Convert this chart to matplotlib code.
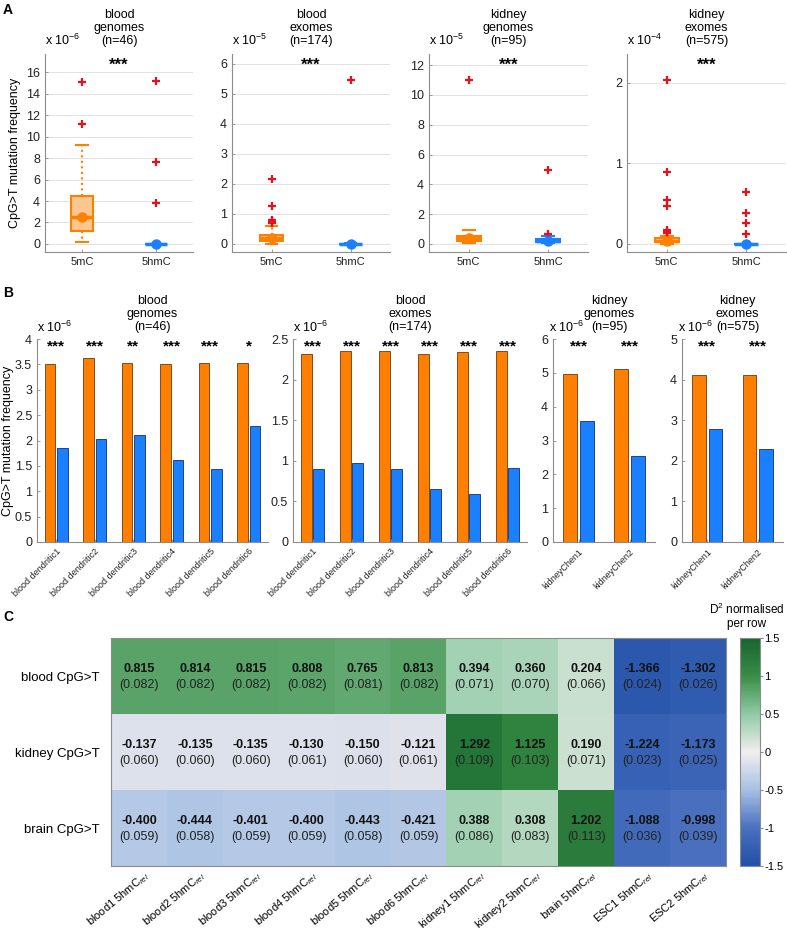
import matplotlib
matplotlib.use("Agg")
import matplotlib.pyplot as plt
import numpy as np
from matplotlib.colors import LinearSegmentedColormap

plt.rcParams["font.family"] = ["Liberation Sans", "DejaVu Sans"]
plt.rcParams["mathtext.fontset"] = "custom"
plt.rcParams["mathtext.rm"] = "Liberation Sans"
plt.rcParams["mathtext.it"] = "Liberation Sans:italic"
plt.rcParams["mathtext.bf"] = "Liberation Sans:bold"

ORANGE = "#ff8000"
BLUE = "#1a80ff"
GREY = "#8c8c8c"

# ---- panel A: boxplots (values in units of the axis multiplier)
a_titles = ["blood\ngenomes\n(n=46)", "blood\nexomes\n(n=174)",
            "kidney\ngenomes\n(n=95)", "kidney\nexomes\n(n=575)"]
a_exponents = [-6, -5, -5, -4]
# whislo, q1, median, q3, whishi
box_5mC = [[0.15, 1.25, 2.5, 4.45, 9.25],
           [0.0, 0.1, 0.18, 0.3, 0.6],
           [0.05, 0.18, 0.38, 0.55, 0.95],
           [0.0, 0.02, 0.04, 0.07, 0.1]]
fliers_5mC = [[11.2, 15.1],
              [0.68, 0.75, 0.8, 1.27, 2.15],
              [11.0],
              [0.13, 0.14, 0.15, 0.17, 0.47, 0.55, 0.9, 2.04]]
box_5hmC = [[0.0, 0.0, 0.0, 0.0, 0.0],
            [0.0, 0.0, 0.0, 0.01, 0.02],
            [0.05, 0.1, 0.2, 0.3, 0.55],
            [0.0, 0.0, 0.0, 0.0, 0.0]]
fliers_5hmC = [[3.8, 7.6, 15.2],
               [5.45],
               [0.65, 4.95],
               [0.12, 0.26, 0.39, 0.65]]
a_ylims = [(-0.75, 17.7), (-0.27, 6.33), (-0.54, 12.75), (-0.1, 2.36)]
a_yticks = [np.arange(0, 17, 2), np.arange(0, 7, 1), np.arange(0, 13, 2), [0, 1, 2]]
a_rects = [(45, 193), (232, 390), (429, 588), (627, 786)]

# ---- panel B: bars (x 1e-6)
b_titles = ["blood\ngenomes\n(n=46)", "blood\nexomes\n(n=174)",
            "kidney\ngenomes\n(n=95)", "kidney\nexomes\n(n=575)"]
dendritic = ["blood dendritic1", "blood dendritic2", "blood dendritic3",
             "blood dendritic4", "blood dendritic5", "blood dendritic6"]
b_labels = [dendritic, dendritic, ["kidneyChen1", "kidneyChen2"], ["kidneyChen1", "kidneyChen2"]]
b_5mC = [[3.50, 3.62, 3.53, 3.50, 3.53, 3.52],
         [2.32, 2.35, 2.35, 2.32, 2.34, 2.35],
         [4.98, 5.10],
         [4.12, 4.12]]
b_5hmC = [[1.85, 2.03, 2.10, 1.62, 1.43, 2.29],
          [0.90, 0.97, 0.90, 0.65, 0.59, 0.91],
          [3.58, 2.53],
          [2.78, 2.30]]
b_stars = [["***", "***", "**", "***", "***", "*"],
           ["***"] * 6,
           ["***", "***"],
           ["***", "***"]]
b_ylims = [4, 2.5, 6, 5]
b_yticks = [np.arange(0, 4.01, 0.5), np.arange(0, 2.51, 0.5), np.arange(0, 7, 1), np.arange(0, 6, 1)]
b_rects = [(37, 268), (293, 527), (553, 655), (682, 783)]

# ---- panel C: heatmap
c_rows = ["blood CpG>T", "kidney CpG>T", "brain CpG>T"]
c_cols = ["blood1", "blood2", "blood3", "blood4", "blood5", "blood6",
          "kidney1", "kidney2", "brain", "ESC1", "ESC2"]
d2 = np.array([
    [0.815, 0.814, 0.815, 0.808, 0.765, 0.813, 0.394, 0.360, 0.204, -1.366, -1.302],
    [-0.137, -0.135, -0.135, -0.130, -0.150, -0.121, 1.292, 1.125, 0.190, -1.224, -1.173],
    [-0.400, -0.444, -0.401, -0.400, -0.443, -0.421, 0.388, 0.308, 1.202, -1.088, -0.998]])
d2_se = np.array([
    [0.082, 0.082, 0.082, 0.082, 0.081, 0.082, 0.071, 0.070, 0.066, 0.024, 0.026],
    [0.060, 0.060, 0.060, 0.061, 0.060, 0.061, 0.109, 0.103, 0.071, 0.023, 0.025],
    [0.059, 0.058, 0.059, 0.059, 0.058, 0.059, 0.086, 0.083, 0.113, 0.036, 0.039]])

W, H = 787, 933
fig = plt.figure(figsize=(W / 100, H / 100), dpi=100)


def rect(x0, x1, ytop, ybot):
    return [x0 / W, 1 - ybot / H, (x1 - x0) / W, (ybot - ytop) / H]


def style(ax):
    for s in ["top", "right"]:
        ax.spines[s].set_visible(False)
    for s in ["left", "bottom"]:
        ax.spines[s].set_color(GREY)
    ax.tick_params(colors="#222222", labelsize=9, length=2, direction="in", width=0.6)
    ax.tick_params(axis="both", color=GREY)


# panel A
for i in range(4):
    ax = fig.add_axes(rect(*a_rects[i], 54, 252))
    style(ax)
    ax.set_axisbelow(True)
    ax.yaxis.grid(True, color="#e2e2e2", lw=0.7)
    groups = [(box_5mC[i], fliers_5mC[i], ORANGE, "#fcc690"),
              (box_5hmC[i], fliers_5hmC[i], BLUE, "#8fc2ff")]
    for j, (b, fl, col, light) in enumerate(groups):
        st = dict(whislo=b[0], q1=b[1], med=b[2], q3=b[3], whishi=b[4], fliers=fl)
        ax.bxp([st], positions=[j + 1], widths=0.3, capwidths=0.15, patch_artist=True,
               boxprops=dict(facecolor=light, edgecolor=col, lw=1.5),
               whiskerprops=dict(color=col, ls=":", lw=1.5),
               capprops=dict(color=col, lw=1.5),
               medianprops=dict(color=col, lw=2.5),
               flierprops=dict(marker="+", markeredgecolor="#e8101a", markersize=5.5, mew=1.6),
               manage_ticks=False)
        ax.plot(j + 1, b[2], "o", color=col, ms=6.5, zorder=5)
    ax.set_xlim(0.5, 2.5)
    ax.set_ylim(*a_ylims[i])
    ax.set_yticks(a_yticks[i])
    ax.set_xticks([1, 2])
    ax.set_xticklabels(["5mC", "5hmC"], fontsize=8)
    ax.text(1.5, 0.945, "***", transform=ax.get_xaxis_transform(), ha="center", va="center",
            fontsize=12, fontweight="bold")
    ax.text(0.0, 1.03, "x 10$^{%d}$" % a_exponents[i], transform=ax.transAxes,
            ha="left", va="bottom", fontsize=9)
    ax.text(0.5, 1.035, a_titles[i], transform=ax.transAxes, ha="center", va="bottom",
            fontsize=9, linespacing=1.1)
    if i == 0:
        ax.set_ylabel("CpG>T mutation frequency", fontsize=9)
        ax.yaxis.set_label_coords(-0.165, 0.5)

# panel B
for i in range(4):
    ax = fig.add_axes(rect(*b_rects[i], 339, 542))
    style(ax)
    n = len(b_5mC[i])
    x = np.arange(1, n + 1)
    ax.bar(x - 0.16, b_5mC[i], width=0.27, color=ORANGE, edgecolor="#6b3a10", lw=0.6)
    ax.bar(x + 0.16, b_5hmC[i], width=0.27, color=BLUE, edgecolor="#10306b", lw=0.6)
    for k in range(n):
        ax.text(x[k], 0.965, b_stars[i][k], transform=ax.get_xaxis_transform(),
                ha="center", va="center", fontsize=11, fontweight="bold")
    ax.set_xlim(0.5, n + 0.5)
    ax.set_ylim(0, b_ylims[i])
    ax.set_yticks(b_yticks[i])
    ax.set_yticklabels(["%g" % v for v in b_yticks[i]])
    ax.set_xticks(x)
    ax.set_xticklabels(b_labels[i], rotation=45, ha="right", rotation_mode="anchor", fontsize=6.5)
    ox = 0.0 if n > 2 else -0.04
    ax.text(ox, 1.02, "x 10$^{-6}$", transform=ax.transAxes, ha="left", va="bottom", fontsize=9)
    tx = 0.5 if n > 2 else 0.55
    ax.text(tx, 1.03, b_titles[i], transform=ax.transAxes, ha="center", va="bottom",
            fontsize=9, linespacing=1.1)
    if i == 0:
        ax.set_ylabel("CpG>T mutation frequency", fontsize=9)
        ax.yaxis.set_label_coords(-0.098, 0.5)

# panel C
cmap = LinearSegmentedColormap.from_list("bwg", [
    (0.0, "#2150a8"), (1 / 6, "#4a70bf"), (2 / 6, "#a7c0e3"), (0.5, "#f2eeee"),
    (4 / 6, "#8fcaa5"), (5 / 6, "#3a8d46"), (1.0, "#16652f")])
axc = fig.add_axes(rect(111, 726, 638, 866))
im = axc.imshow(d2, cmap=cmap, vmin=-1.5, vmax=1.5, aspect="auto")
for r in range(d2.shape[0]):
    for c in range(d2.shape[1]):
        axc.text(c, r - 0.09, "%.3f" % d2[r, c], ha="center", va="center",
                 fontsize=9, fontweight="bold", color="#111111")
        axc.text(c, r + 0.12, "(%.3f)" % d2_se[r, c], ha="center", va="center",
                 fontsize=9, color="#222222")
axc.set_yticks(range(3))
axc.set_yticklabels(c_rows, fontsize=9.5)
axc.set_xticks(np.arange(len(c_cols)) + 0.08)
axc.set_xticklabels([c + " 5hmC$_{rel}$" for c in c_cols], rotation=40, ha="right",
                    rotation_mode="anchor", fontsize=8)
axc.tick_params(axis="x", length=0, pad=2)
axc.tick_params(axis="y", length=0, pad=8)
for s in axc.spines.values():
    s.set_color(GREY)

cax = fig.add_axes(rect(740, 760, 638, 866))
cb = fig.colorbar(im, cax=cax, ticks=[-1.5, -1, -0.5, 0, 0.5, 1, 1.5])
cb.ax.set_yticklabels(["-1.5", "-1", "-0.5", "0", "0.5", "1", "1.5"])
cb.ax.tick_params(labelsize=8, length=2, color=GREY, pad=1)
cb.outline.set_edgecolor(GREY)
fig.text(747 / W, 1 - 630 / H, "D$^2$ normalised\nper row", ha="center", va="bottom",
         fontsize=8.5, linespacing=1.1)

# panel letters
for lab, y in [("A", 10), ("B", 293), ("C", 617)]:
    fig.text(3 / W, 1 - y / H, lab, fontsize=10, fontweight="bold", va="center", ha="left")

fig.savefig("out.png", dpi=100)
